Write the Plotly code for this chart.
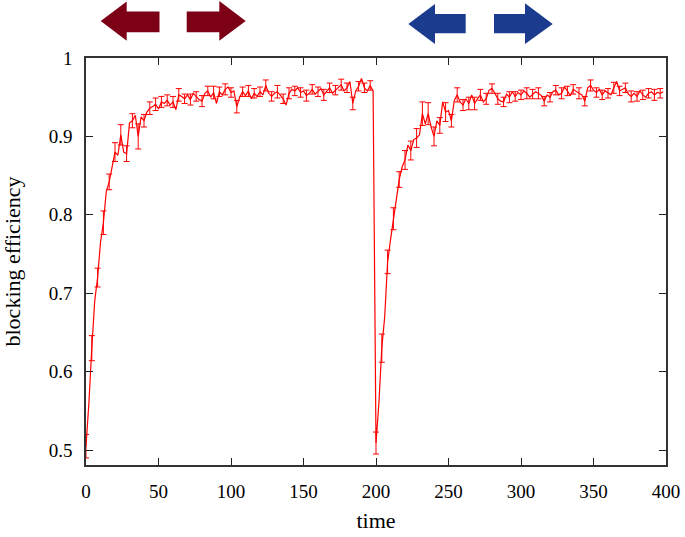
import plotly.graph_objects as go

# ---------------- data ----------------
time_a = list(range(0, 200, 2))
eff_a = [0.505, 0.56, 0.63, 0.69, 0.72, 0.765, 0.79, 0.83, 0.842, 0.86,
         0.88, 0.876, 0.902, 0.88, 0.878, 0.917, 0.92, 0.927, 0.90, 0.925,
         0.92, 0.931, 0.936, 0.938, 0.941, 0.935, 0.944, 0.942, 0.946, 0.94,
         0.944, 0.934, 0.953, 0.951, 0.948, 0.953, 0.947, 0.955, 0.951, 0.947,
         0.945, 0.955, 0.958, 0.950, 0.956, 0.942, 0.957, 0.953, 0.960, 0.963,
         0.956, 0.958, 0.938, 0.950, 0.957, 0.952, 0.958, 0.948, 0.955, 0.951,
         0.957, 0.953, 0.965, 0.955, 0.951, 0.955, 0.957, 0.952, 0.948, 0.940,
         0.955, 0.960, 0.958, 0.962, 0.956, 0.958, 0.952, 0.955, 0.960, 0.954,
         0.957, 0.961, 0.953, 0.958, 0.962, 0.955, 0.959, 0.963, 0.966, 0.958,
         0.962, 0.970, 0.942, 0.958, 0.964, 0.974, 0.962, 0.958, 0.965, 0.958]

time_b = list(range(200, 400, 2))
eff_b = [0.509, 0.56, 0.63, 0.67, 0.74, 0.768, 0.795, 0.825, 0.845, 0.861,
         0.87, 0.889, 0.882, 0.896, 0.898, 0.902, 0.929, 0.916, 0.929, 0.912,
         0.90, 0.92, 0.914, 0.944, 0.931, 0.933, 0.92, 0.946, 0.953, 0.944,
         0.94, 0.948, 0.942, 0.953, 0.942, 0.948, 0.953, 0.944, 0.948, 0.959,
         0.961, 0.955, 0.948, 0.945, 0.944, 0.954, 0.950, 0.957, 0.951, 0.956,
         0.953, 0.958, 0.955, 0.950, 0.954, 0.957, 0.955, 0.952, 0.945, 0.953,
         0.950, 0.957, 0.959, 0.953, 0.955, 0.963, 0.958, 0.952, 0.960, 0.957,
         0.955, 0.953, 0.945, 0.962, 0.965, 0.959, 0.956, 0.960, 0.953, 0.958,
         0.955, 0.953, 0.962, 0.970, 0.958, 0.960, 0.962, 0.954, 0.951, 0.955,
         0.951, 0.958, 0.953, 0.950, 0.955, 0.957, 0.953, 0.956, 0.955, 0.957]

# error bars on every second point (every 4 time units)
err_a = [0.015, 0.016, 0.012, 0.015, 0.010, 0.012, 0.013, 0.010, 0.009, 0.016,
         0.008, 0.008, 0.008, 0.007, 0.007, 0.007, 0.008, 0.006, 0.007, 0.006,
         0.007, 0.006, 0.008, 0.006, 0.007, 0.006, 0.008, 0.006, 0.007, 0.006,
         0.006, 0.007, 0.006, 0.008, 0.006, 0.007, 0.006, 0.006, 0.007, 0.006,
         0.006, 0.007, 0.006, 0.006, 0.007, 0.006, 0.008, 0.006, 0.006, 0.006]
err_b = [0.014, 0.018, 0.015, 0.014, 0.010, 0.012, 0.012, 0.012, 0.015, 0.014,
         0.012, 0.010, 0.012, 0.008, 0.009, 0.007, 0.008, 0.008, 0.007, 0.007,
         0.006, 0.007, 0.006, 0.007, 0.006, 0.006, 0.007, 0.006, 0.007, 0.006,
         0.006, 0.006, 0.007, 0.006, 0.006, 0.007, 0.006, 0.007, 0.006, 0.006,
         0.006, 0.007, 0.006, 0.006, 0.007, 0.006, 0.006, 0.006, 0.007, 0.006]

x_ticks = [0, 50, 100, 150, 200, 250, 300, 350, 400]
y_ticks = [0.5, 0.6, 0.7, 0.8, 0.9, 1.0]
y_tick_labels = ["0.5", "0.6", "0.7", "0.8", "0.9", "1"]

# ---------------- figure ----------------
times = time_a + time_b
effs = eff_a + eff_b
err_t = time_a[::2] + time_b[::2]
err_y = eff_a[::2] + eff_b[::2]
err_v = err_a + err_b

RED = "#ff0000"
fig = go.Figure()
fig.add_trace(go.Scatter(x=times, y=effs, mode="lines",
                         line=dict(color=RED, width=1.2), showlegend=False,
                         hoverinfo="skip"))
fig.add_trace(go.Scatter(x=err_t, y=err_y, mode="markers",
                         marker=dict(size=1, color="rgba(0,0,0,0)"),
                         error_y=dict(type="data", array=err_v, color=RED,
                                      thickness=1, width=3),
                         showlegend=False))

# decorative arrows (pixel geometry -> paper coordinates)
L, R, T, B = 86, 666, 58, 465


def px(xp):
    return (xp - L) / (R - L)


def py(yp):
    return (B - yp) / (B - T)


def arrow(tip, head_back, tail, yc, sh_top, sh_bot, hd_top, hd_bot):
    pts = [(tip, yc), (head_back, hd_top), (head_back, sh_top), (tail, sh_top),
           (tail, sh_bot), (head_back, sh_bot), (head_back, hd_bot)]
    return "M " + " L ".join(f"{px(a):.5f},{py(b):.5f}" for a, b in pts) + " Z"


DARKRED = "#7c0016"
BLUE = "#1a3b8e"
arrows = [
    (arrow(100.7, 126.7, 159.5, 21, 11.5, 32.3, 1.5, 40.7), DARKRED),
    (arrow(245.7, 219.3, 186.7, 21, 11.5, 32.3, 1.0, 40.7), DARKRED),
    (arrow(408.3, 435.0, 465.7, 24, 14.0, 33.3, 4.0, 44.0), BLUE),
    (arrow(552.7, 525.0, 494.0, 24, 14.0, 33.3, 3.3, 44.0), BLUE),
]
for path, col in arrows:
    fig.add_shape(type="path", path=path, xref="paper", yref="paper",
                  fillcolor=col, line=dict(width=0), layer="above")

FONT = "Liberation Serif"
axis_common = dict(showline=True, linecolor="#333333", linewidth=1.5,
                   mirror="ticks", ticks="inside", ticklen=7, tickwidth=1.2,
                   tickcolor="#222222", showgrid=False, zeroline=False,
                   automargin=False,
                   tickfont=dict(family=FONT, size=19, color="black"),
                   ticklabelstandoff=8)

fig.update_layout(
    width=685, height=537,
    margin=dict(l=L, r=685 - R, t=T, b=537 - B),
    paper_bgcolor="white", plot_bgcolor="white",
    font=dict(family=FONT, color="black"),
    xaxis=dict(range=[0, 400], tickvals=x_ticks,
               title=dict(text="time", font=dict(family=FONT, size=22), standoff=12),
               **axis_common),
    yaxis=dict(range=[0.481, 1.0], tickvals=y_ticks, ticktext=y_tick_labels,
               title=dict(text="blocking efficiency", font=dict(family=FONT, size=22),
                          standoff=22),
               **axis_common),
)

fig.write_html("out.html", config={"displayModeBar": False},
               post_script="document.body.style.margin='0';document.body.style.overflow='hidden';")
